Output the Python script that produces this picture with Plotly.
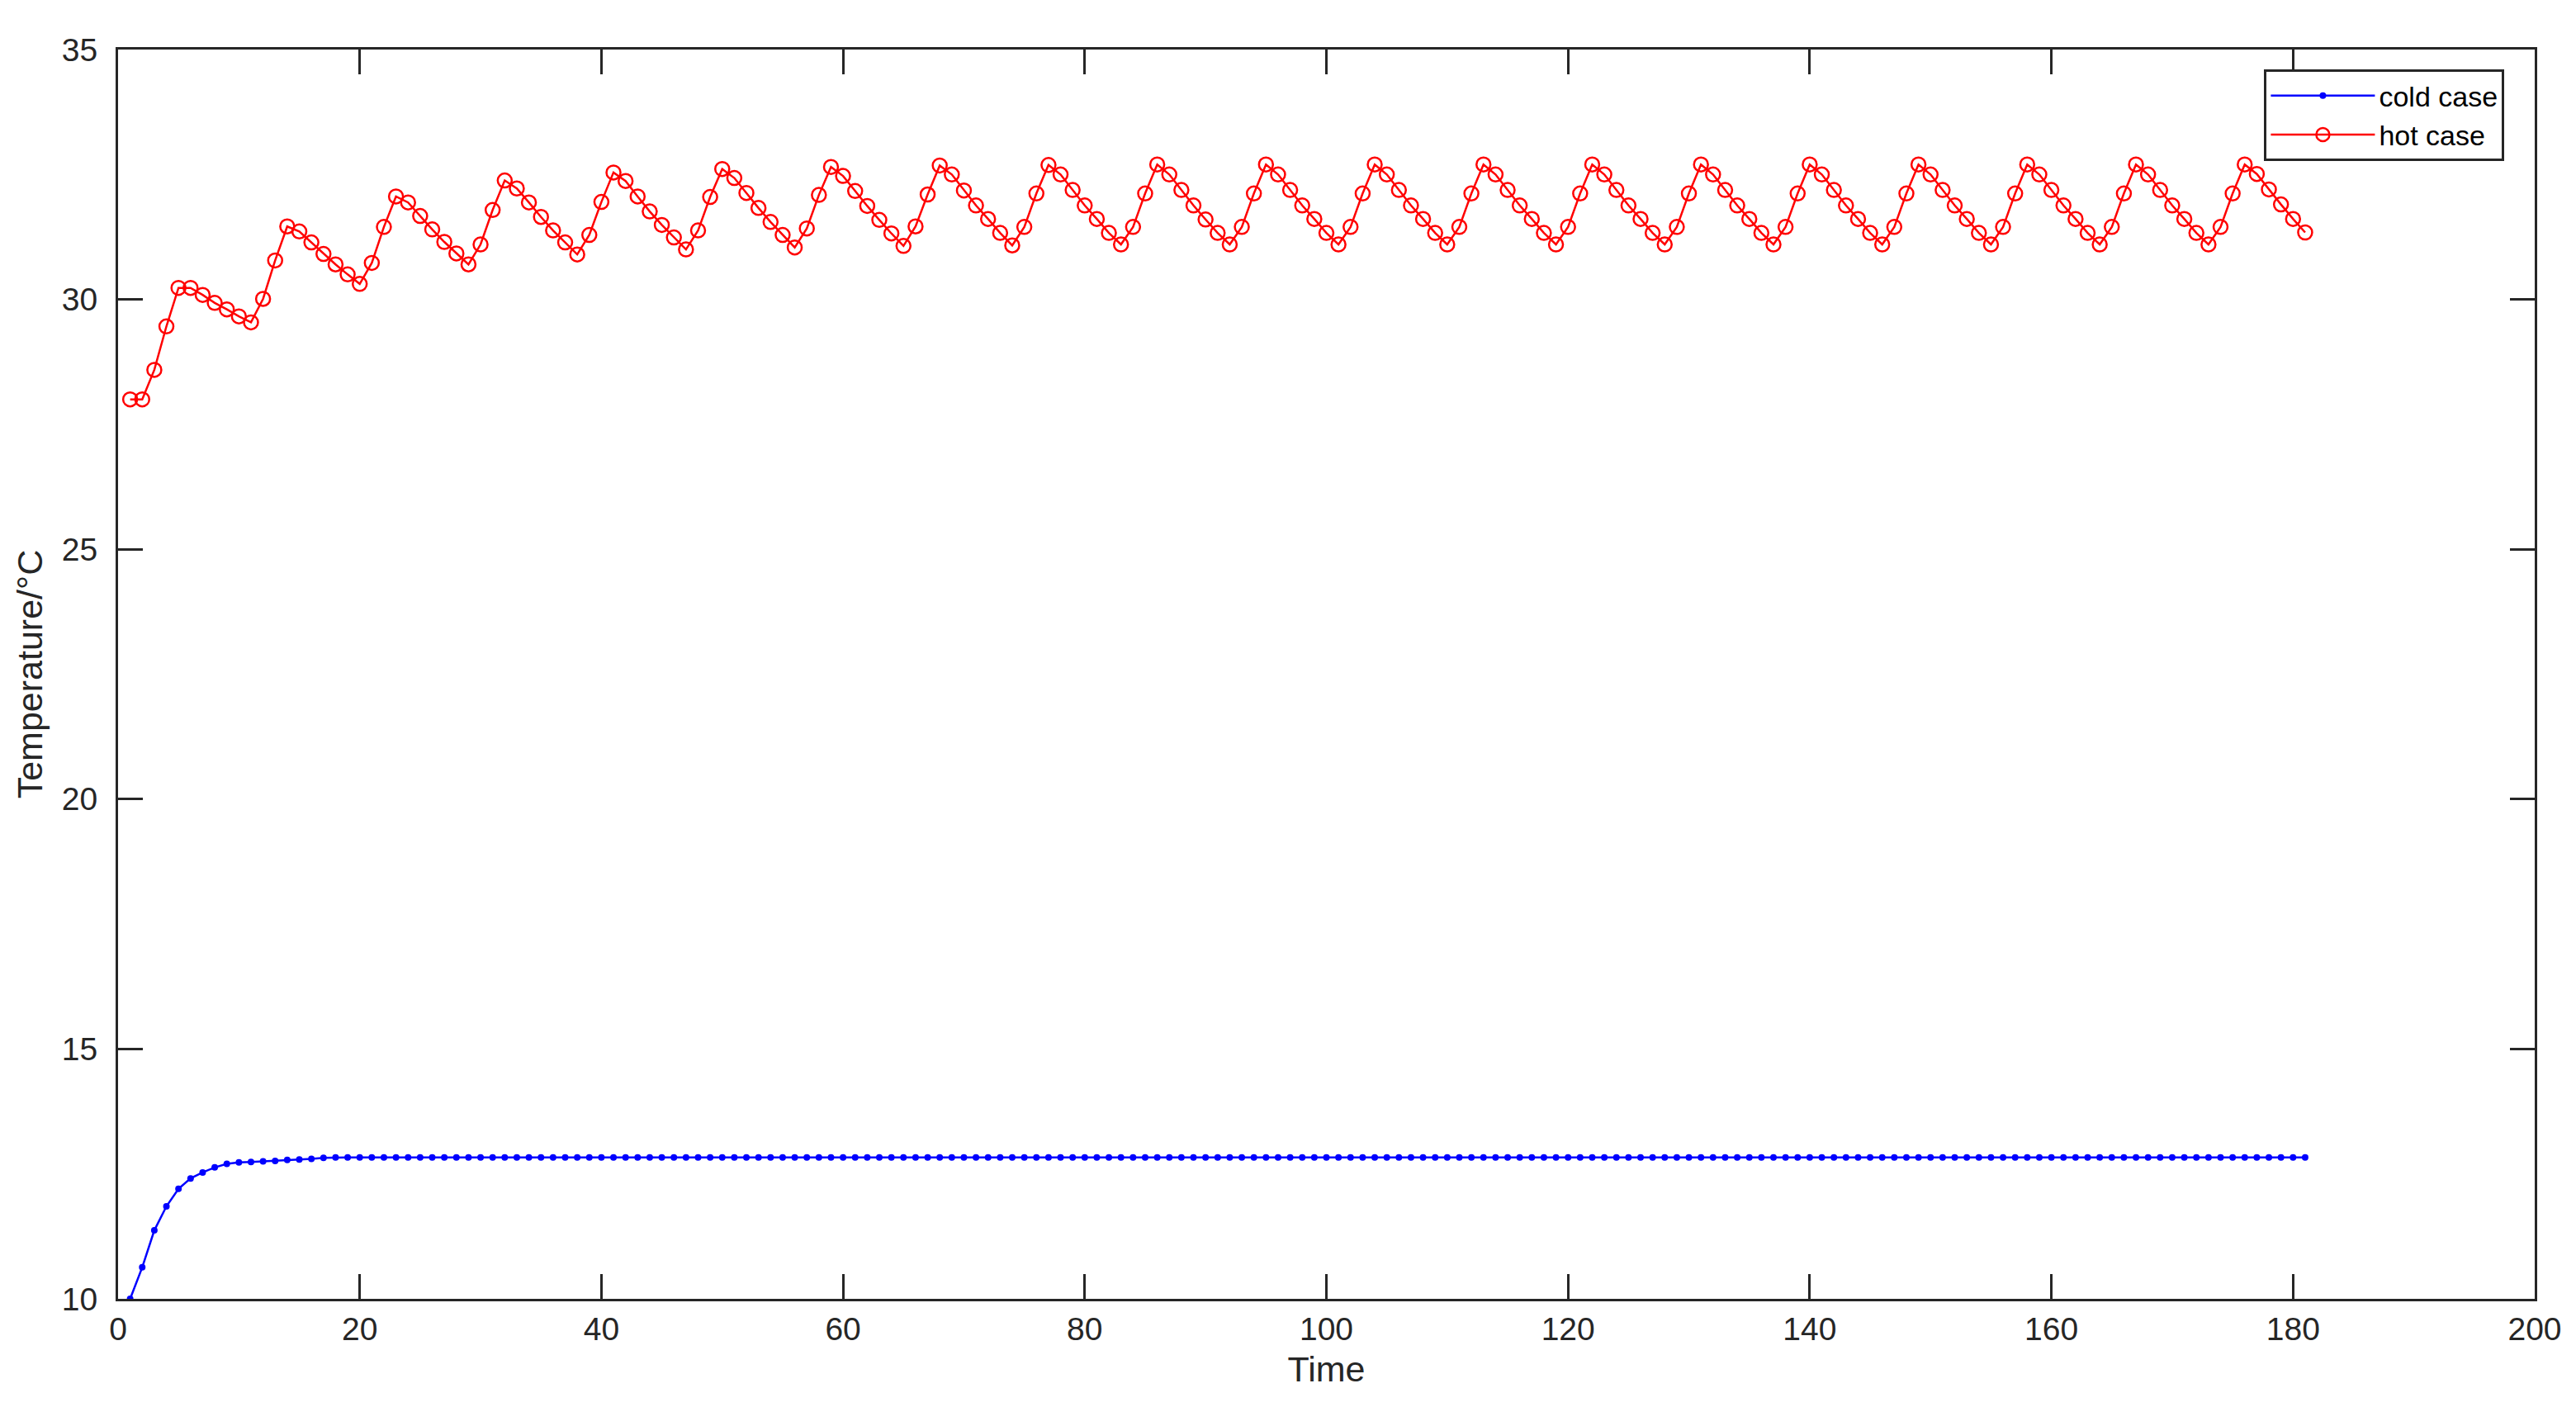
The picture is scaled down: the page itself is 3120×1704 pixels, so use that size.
import plotly.graph_objects as go

time = list(range(1, 182))

hot_case = [
    28.00, 28.00, 28.59, 29.46, 30.23, 30.23, 30.09, 29.93, 29.80,
    29.66, 29.54, 30.01, 30.78, 31.46, 31.36, 31.14, 30.91, 30.70,
    30.50, 30.31, 30.73, 31.45, 32.06, 31.94, 31.67, 31.40, 31.15,
    30.92, 30.70, 31.10, 31.79, 32.38, 32.22, 31.94, 31.65, 31.38,
    31.14, 30.90, 31.29, 31.95, 32.54, 32.37, 32.06, 31.76, 31.49,
    31.24, 31.00, 31.38, 32.05, 32.61, 32.43, 32.13, 31.83, 31.55,
    31.29, 31.04, 31.42, 32.09, 32.65, 32.47, 32.17, 31.87, 31.59,
    31.32, 31.07, 31.46, 32.10, 32.68, 32.50, 32.18, 31.88, 31.61,
    31.33, 31.08, 31.45, 32.12, 32.69, 32.50, 32.19, 31.88, 31.61,
    31.33, 31.10, 31.45, 32.12, 32.70, 32.50, 32.19, 31.88, 31.60,
    31.33, 31.10, 31.45, 32.12, 32.70, 32.50, 32.19, 31.88, 31.61,
    31.33, 31.10, 31.45, 32.12, 32.70, 32.50, 32.19, 31.88, 31.61,
    31.33, 31.10, 31.45, 32.12, 32.70, 32.50, 32.19, 31.88, 31.61,
    31.33, 31.10, 31.45, 32.12, 32.70, 32.50, 32.19, 31.88, 31.61,
    31.33, 31.10, 31.45, 32.12, 32.70, 32.50, 32.19, 31.88, 31.61,
    31.33, 31.10, 31.45, 32.12, 32.70, 32.50, 32.19, 31.88, 31.61,
    31.33, 31.10, 31.45, 32.12, 32.70, 32.50, 32.19, 31.88, 31.61,
    31.33, 31.10, 31.45, 32.12, 32.70, 32.50, 32.19, 31.88, 31.61,
    31.33, 31.10, 31.45, 32.12, 32.70, 32.50, 32.19, 31.88, 31.61,
    31.33, 31.10, 31.45, 32.12, 32.70, 32.51, 32.20, 31.90, 31.61,
    31.34,
]

cold_case = [
    10.00, 10.63, 11.37, 11.85, 12.20, 12.41, 12.53, 12.63, 12.70,
    12.73, 12.74, 12.75, 12.76, 12.78, 12.79, 12.80, 12.82, 12.83,
    12.83, 12.83, 12.83, 12.83, 12.83, 12.83, 12.83, 12.83, 12.83,
    12.83, 12.83, 12.83, 12.83, 12.83, 12.83, 12.83, 12.83, 12.83,
    12.83, 12.83, 12.83, 12.83, 12.83, 12.83, 12.83, 12.83, 12.83,
    12.83, 12.83, 12.83, 12.83, 12.83, 12.83, 12.83, 12.83, 12.83,
    12.83, 12.83, 12.83, 12.83, 12.83, 12.83, 12.83, 12.83, 12.83,
    12.83, 12.83, 12.83, 12.83, 12.83, 12.83, 12.83, 12.83, 12.83,
    12.83, 12.83, 12.83, 12.83, 12.83, 12.83, 12.83, 12.83, 12.83,
    12.83, 12.83, 12.83, 12.83, 12.83, 12.83, 12.83, 12.83, 12.83,
    12.83, 12.83, 12.83, 12.83, 12.83, 12.83, 12.83, 12.83, 12.83,
    12.83, 12.83, 12.83, 12.83, 12.83, 12.83, 12.83, 12.83, 12.83,
    12.83, 12.83, 12.83, 12.83, 12.83, 12.83, 12.83, 12.83, 12.83,
    12.83, 12.83, 12.83, 12.83, 12.83, 12.83, 12.83, 12.83, 12.83,
    12.83, 12.83, 12.83, 12.83, 12.83, 12.83, 12.83, 12.83, 12.83,
    12.83, 12.83, 12.83, 12.83, 12.83, 12.83, 12.83, 12.83, 12.83,
    12.83, 12.83, 12.83, 12.83, 12.83, 12.83, 12.83, 12.83, 12.83,
    12.83, 12.83, 12.83, 12.83, 12.83, 12.83, 12.83, 12.83, 12.83,
    12.83, 12.83, 12.83, 12.83, 12.83, 12.83, 12.83, 12.83, 12.83,
    12.83, 12.83, 12.83, 12.83, 12.83, 12.83, 12.83, 12.83, 12.83,
    12.83,
]

x_ticks = [0, 20, 40, 60, 80, 100, 120, 140, 160, 180, 200]
y_ticks = [10, 15, 20, 25, 30, 35]

FONT = "Arial, 'Liberation Sans', sans-serif"
AXC = "#262626"

fig = go.Figure()
fig.add_trace(go.Scatter(
    x=time, y=cold_case, name="cold case", mode="lines+markers",
    line=dict(color="#0000FF", width=2.5),
    marker=dict(symbol="circle", size=8, color="#0000FF"),
))
fig.add_trace(go.Scatter(
    x=time, y=hot_case, name="hot case", mode="lines+markers",
    line=dict(color="#FF0000", width=2.5),
    marker=dict(symbol="circle-open", size=17, color="#FF0000",
                line=dict(width=2.5, color="#FF0000")),
))

axis_common = dict(
    showgrid=False, zeroline=False, showline=True, linecolor=AXC,
    linewidth=3, mirror="ticks", ticks="inside", ticklen=30,
    tickwidth=3, tickcolor=AXC,
    tickfont=dict(family=FONT, size=39, color=AXC),
)

fig.update_layout(
    width=3120, height=1704,
    margin=dict(l=135, r=58, t=52, b=139),
    paper_bgcolor="white", plot_bgcolor="white",
    font=dict(family=FONT, color=AXC),
    xaxis=dict(range=[0, 200], tickvals=x_ticks,
               title=dict(text="Time", font=dict(family=FONT, size=43, color=AXC),
                          standoff=14),
               **axis_common),
    yaxis=dict(range=[10, 35], tickvals=y_ticks, ticklabelstandoff=14,
               title=dict(text="Temperature/°C", font=dict(family=FONT, size=43, color=AXC),
                          standoff=10),
               **axis_common),
    legend=dict(
        x=0.9875, y=0.984, xanchor="right", yanchor="top",
        bgcolor="white", bordercolor=AXC, borderwidth=3,
        font=dict(family=FONT, size=34, color="black"),
        itemwidth=126, tracegroupgap=0,
    ),
    showlegend=True,
)

fig.write_html("out.html")
